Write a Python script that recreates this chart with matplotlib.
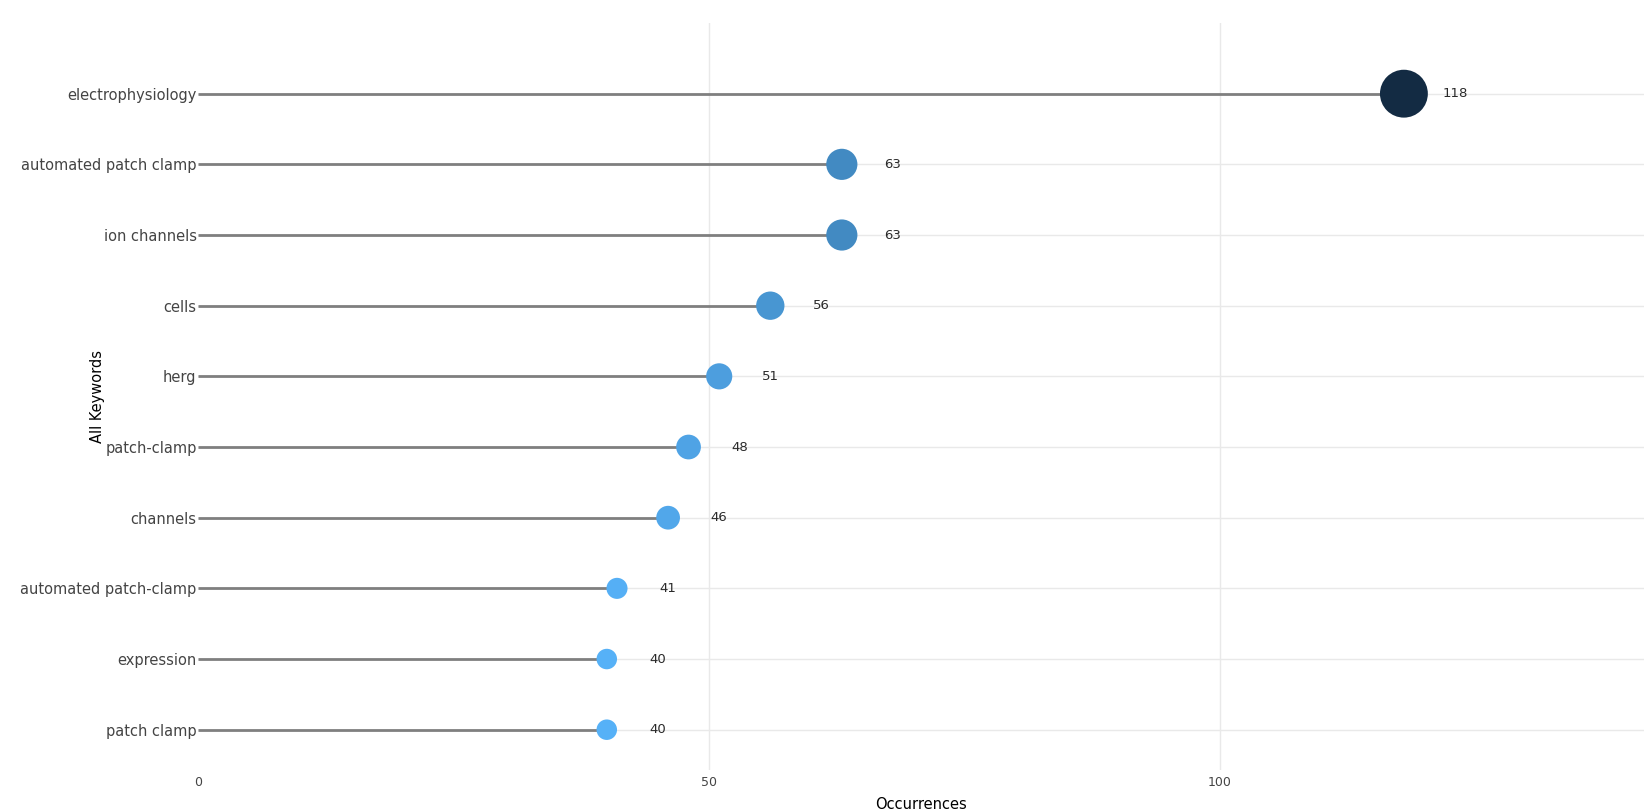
import numpy as np
import matplotlib.pyplot as plt
from matplotlib.colors import LinearSegmentedColormap, Normalize

keywords = ["patch clamp", "expression", "automated patch-clamp", "channels",
            "patch-clamp", "herg", "cells", "ion channels",
            "automated patch clamp", "electrophysiology"]
occurrences = [40, 40, 41, 46, 48, 51, 56, 63, 63, 118]

# continuous blue scale: light for low counts, dark navy for high counts
cmap = LinearSegmentedColormap.from_list("blues", ["#56B1F7", "#132B43"])
norm = Normalize(vmin=min(occurrences), vmax=max(occurrences))

vals = np.array(occurrences, dtype=float)
ypos = np.arange(len(keywords))
# marker diameter in px grows with sqrt of area
diam_px = np.sqrt(420 + (vals - vals.min()) * 24.0)
sizes = (diam_px * 0.72) ** 2

fig = plt.figure(figsize=(16.5, 8.1), dpi=100)
ax = fig.add_axes([0.12, 0.0494, 0.8764, 0.9222])

ax.hlines(ypos, 0, 141.5, color="#e9e9e9", linewidth=1, zorder=0)
ax.hlines(ypos, 0, vals, color="#7f7f7f", linewidth=2, zorder=1)
ax.scatter(vals, ypos, s=sizes, c=cmap(norm(vals)), edgecolors="none", zorder=3)

for v, y in zip(occurrences, ypos):
    ax.text(v + 5, y, str(v), ha="center", va="center", fontsize=9.5,
            color="#2a2a2a", zorder=4)

ax.set_xlim(0, 141.5)
ax.set_ylim(-0.57, 10.0)
ax.set_xticks([0, 50, 100])
ax.set_yticks(ypos)
ax.set_yticklabels(keywords)
for xv in [50, 100]:
    ax.axvline(xv, color="#e9e9e9", linewidth=1, zorder=0)

ax.tick_params(axis="x", length=0, pad=4, labelsize=9, labelcolor="#444444")
ax.tick_params(axis="y", length=0, pad=1, labelsize=10.5, labelcolor="#444444")
for s in ax.spines.values():
    s.set_visible(False)

ax.set_xlabel("Occurrences", fontsize=10.5, color="black", labelpad=6)
ax.set_ylabel("All Keywords", fontsize=10.5, color="black")
ax.yaxis.set_label_coords(-0.064, 0.5)

fig.savefig("out.png", dpi=100)
